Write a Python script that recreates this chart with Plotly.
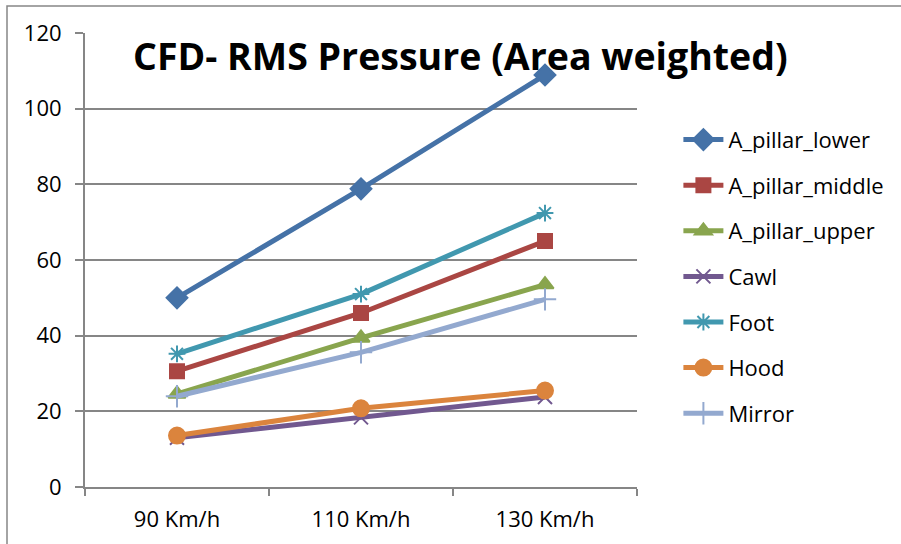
import plotly.graph_objects as go

# Speed categories and area-weighted RMS pressure per surface
speeds = ["90 Km/h", "110 Km/h", "130 Km/h"]
a_pillar_lower = [50.0, 78.8, 108.9]
a_pillar_middle = [30.6, 46.0, 65.0]
a_pillar_upper = [24.6, 39.4, 53.5]
cawl = [13.0, 18.4, 23.8]
foot = [35.2, 51.0, 72.4]
hood = [13.6, 20.8, 25.5]
mirror = [24.0, 35.6, 49.6]

series = [
    ("A_pillar_lower", a_pillar_lower, "#4572A7", "diamond", 16),
    ("A_pillar_middle", a_pillar_middle, "#AA4643", "square", 14),
    ("A_pillar_upper", a_pillar_upper, "#89A54E", "triangle-up", 15),
    ("Cawl", cawl, "#71588F", "x-thin-open", 14),
    ("Foot", foot, "#4198AF", "asterisk-open", 14),
    ("Hood", hood, "#DB843D", "circle", 16),
    ("Mirror", mirror, "#93A9CF", "cross-thin-open", 16),
]

FONT = "Open Sans"
GRID = "#868686"

fig = go.Figure()
for name, vals, color, symbol, size in series:
    fig.add_trace(go.Scatter(
        x=speeds, y=vals, name=name, mode="lines+markers",
        legendgroup=name,
        line=dict(color=color, width=5),
        marker=dict(symbol=symbol, size=size, color=color,
                    line=dict(color=color, width=2)),
    ))

fig.update_layout(
    width=901, height=544,
    margin=dict(l=85, r=264, t=33, b=57),
    paper_bgcolor="white", plot_bgcolor="white",
    font=dict(family=FONT, color="black"),
    showlegend=True,
    legend=dict(x=1.075, y=0.811, xanchor="left", yanchor="top",
                font=dict(size=22, family=FONT), tracegroupgap=14,
                bgcolor="rgba(0,0,0,0)", itemwidth=40),
    xaxis=dict(type="category", range=[-0.5, 2.5], showgrid=False,
               showline=True, linecolor=GRID, linewidth=2,
               ticks="outside", tickson="boundaries", ticklen=7,
               tickcolor=GRID, tickwidth=2, ticklabelstandoff=12,
               tickfont=dict(size=22, family=FONT)),
    yaxis=dict(range=[0, 120], dtick=20, showgrid=True, gridcolor=GRID,
               gridwidth=1.5, showline=True, linecolor=GRID, linewidth=2,
               ticks="outside", ticklen=8, tickcolor=GRID, tickwidth=1.5,
               ticklabelstandoff=9,
               tickfont=dict(size=22, family=FONT), zeroline=False),
    annotations=[dict(
        text="<b>CFD- RMS Pressure (Area weighted)</b>",
        xref="paper", yref="paper", x=(460 - 85) / 552, y=(487 - 56) / 454,
        xanchor="center", yanchor="middle", showarrow=False,
        font=dict(size=37.5, family=FONT, color="black"),
    )],
    shapes=[dict(
        type="rect", xref="paper", yref="paper",
        x0=(7 - 85) / 552, x1=(910 - 85) / 552,
        y0=(487 - 560) / 454, y1=(487 - 6) / 454,
        line=dict(color=GRID, width=1.5), fillcolor="rgba(0,0,0,0)",
        layer="below",
    )],
)

fig.write_html("out.html")
